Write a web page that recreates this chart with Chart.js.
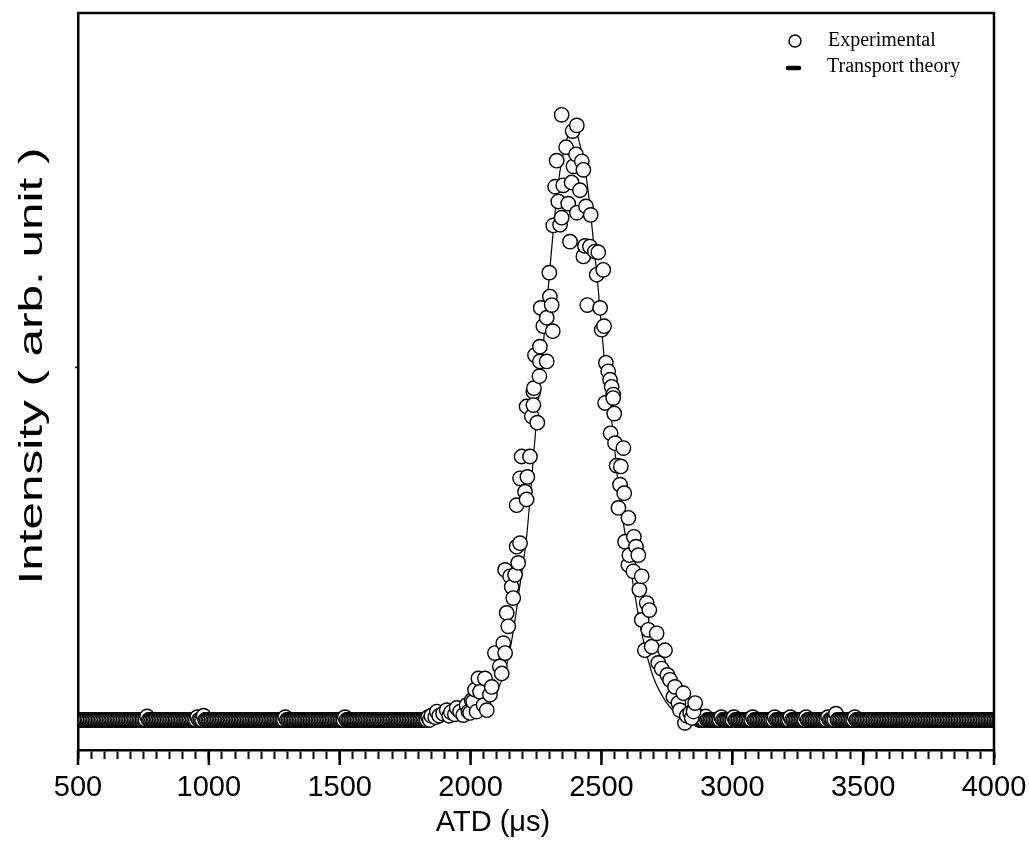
<!DOCTYPE html>
<html>
<head>
<meta charset="utf-8">
<script src="https://cdn.jsdelivr.net/npm/chart.js@4.4.0/dist/chart.umd.min.js"></script>
<style>
    body { margin: 0; background: #fff; }
    .graph-session { width: 1029px; height: 863px; }
</style>
</head>
<body>
<div class="graph-session"><canvas id="atd_graph"></canvas></div>
<script>
// experimental points, left baseline (ATD in us)
const tailLeftX = [
    500, 506, 512, 518, 524, 530, 536, 542, 548, 554,
    560, 566, 572, 578, 584, 590, 596, 602, 608, 614,
    620, 626, 632, 638, 644, 650, 656, 662, 668, 674,
    680, 686, 692, 698, 704, 710, 716, 722, 728, 734,
    740, 746, 752, 758, 764, 770, 776, 782, 788, 794,
    800, 806, 812, 818, 824, 830, 836, 842, 848, 854,
    860, 866, 872, 878, 884, 890, 896, 902, 908, 914,
    920, 926, 932, 938, 944, 950, 956, 962, 968, 974,
    980, 986, 992, 998, 1004, 1010, 1016, 1022, 1028, 1034,
    1040, 1046, 1052, 1058, 1064, 1070, 1076, 1082, 1088, 1094,
    1100, 1106, 1112, 1118, 1124, 1130, 1136, 1142, 1148, 1154,
    1160, 1166, 1172, 1178, 1184, 1190, 1196, 1202, 1208, 1214,
    1220, 1226, 1232, 1238, 1244, 1250, 1256, 1262, 1268, 1274,
    1280, 1286, 1292, 1298, 1304, 1310, 1316, 1322, 1328, 1334,
    1340, 1346, 1352, 1358, 1364, 1370, 1376, 1382, 1388, 1394,
    1400, 1406, 1412, 1418, 1424, 1430, 1436, 1442, 1448, 1454,
    1460, 1466, 1472, 1478, 1484, 1490, 1496, 1502, 1508, 1514,
    1520, 1526, 1532, 1538, 1544, 1550, 1556, 1562, 1568, 1574,
    1580, 1586, 1592, 1598, 1604, 1610, 1616, 1622, 1628, 1634,
    1640, 1646, 1652, 1658, 1664, 1670, 1676, 1682, 1688, 1694,
    1700, 1706, 1712, 1718, 1724, 1730, 1736, 1742, 1748, 1754,
    1760, 1766, 1772, 1778, 1784, 1790, 1796, 1802, 1808, 1814,
    1820, 1826, 1832, 1838, 1844, 1850
]
const tailLeftY = [
    0, 0, 0, 0, 0, 0, 0, 0, 0, 0,
    0, 0, 0, 0, 0, 0, 0, 0, 0, 0,
    0, 0, 0, 0, 0, 0, 0, 0, 0, 0,
    0, 0, 0, 0, 0, 0, 0, 0, 0, 0,
    0, 0, 0, 0, 0.005, 0, 0, 0, 0, 0,
    0, 0, 0, 0, 0, 0, 0, 0, 0, 0,
    0, 0, 0, 0, 0, 0, 0, 0, 0, 0,
    0, 0, 0, 0, 0, 0, 0.004, 0, 0, 0,
    0.006, 0, 0, 0, 0, 0, 0, 0, 0, 0,
    0, 0, 0, 0, 0, 0, 0, 0, 0, 0,
    0, 0, 0, 0, 0, 0, 0, 0, 0, 0,
    0, 0, 0, 0, 0, 0, 0, 0, 0, 0,
    0, 0, 0, 0, 0, 0, 0, 0, 0, 0,
    0, 0, 0.004, 0, 0, 0, 0, 0, 0, 0,
    0, 0, 0, 0, 0, 0, 0, 0, 0, 0,
    0, 0, 0, 0, 0, 0, 0, 0, 0, 0,
    0, 0, 0, 0, 0, 0, 0, 0, 0, 0,
    0.004, 0, 0, 0, 0, 0, 0, 0, 0, 0,
    0, 0, 0, 0, 0, 0, 0, 0, 0, 0,
    0, 0, 0, 0, 0, 0, 0, 0, 0, 0,
    0, 0, 0, 0, 0, 0, 0, 0, 0, 0,
    0, 0, 0, 0, 0, 0, 0, 0, 0, 0,
    0, 0, 0, 0.004, 0, 0.006
]
// experimental points, peak
const peakX = [
    1865, 1871, 1880, 1895, 1909, 1918, 1925, 1940, 1947, 1960,
    1972, 1985, 1992, 1998, 2004, 2010, 2017, 2023, 2030, 2036,
    2050, 2055, 2062, 2074, 2081, 2093, 2112, 2119, 2125, 2132,
    2132, 2138, 2144, 2151, 2157, 2163, 2170, 2176, 2176, 2182,
    2189, 2189, 2195, 2208, 2214, 2214, 2217, 2227, 2234, 2240,
    2240, 2242, 2246, 2255, 2263, 2265, 2265, 2268, 2278, 2291,
    2291, 2301, 2303, 2310, 2314, 2316, 2323, 2329, 2335, 2342,
    2348, 2348, 2354, 2365, 2373, 2380, 2386, 2390, 2393, 2403,
    2406, 2406, 2418, 2425, 2431, 2431, 2437, 2441, 2446, 2456,
    2459, 2475, 2482, 2488, 2495, 2501, 2507, 2510, 2514, 2517,
    2526, 2533, 2535, 2539, 2545, 2545, 2549, 2552, 2558, 2565,
    2571, 2574, 2584, 2587, 2590, 2603, 2603, 2607, 2622, 2624,
    2632, 2641, 2645, 2654, 2654, 2666, 2673, 2679, 2683, 2692,
    2711, 2717, 2730, 2743, 2752, 2762, 2775, 2781, 2794, 2800,
    2813, 2819, 2826, 2839, 2845, 2852, 2858
]
const peakY = [
    0.004, 0.012, 0.006, 0.009, 0.014, 0.006, 0.011, 0.008, 0.017, 0.012,
    0.007, 0.021, 0.012, 0.010, 0.028, 0.026, 0.043, 0.012, 0.059, 0.040,
    0.021, 0.059, 0.014, 0.036, 0.047, 0.095, 0.076, 0.066, 0.109, 0.095,
    0.213, 0.152, 0.133, 0.204, 0.189, 0.173, 0.206, 0.305, 0.246, 0.223,
    0.343, 0.251, 0.374, 0.324, 0.445, 0.313, 0.345, 0.374, 0.431, 0.466,
    0.447, 0.471, 0.518, 0.422, 0.488, 0.530, 0.509, 0.585, 0.559, 0.571,
    0.509, 0.635, 0.601, 0.589, 0.552, 0.702, 0.757, 0.794, 0.736, 0.703,
    0.859, 0.713, 0.759, 0.813, 0.733, 0.679, 0.763, 0.836, 0.786, 0.803,
    0.844, 0.720, 0.752, 0.793, 0.781, 0.658, 0.673, 0.729, 0.589, 0.672,
    0.717, 0.665, 0.632, 0.664, 0.585, 0.554, 0.639, 0.559, 0.450, 0.507,
    0.495, 0.483, 0.407, 0.473, 0.462, 0.457, 0.435, 0.393, 0.361, 0.301,
    0.334, 0.360, 0.386, 0.322, 0.253, 0.287, 0.220, 0.234, 0.211, 0.260,
    0.246, 0.234, 0.185, 0.204, 0.142, 0.099, 0.166, 0.128, 0.156, 0.104,
    0.123, 0.081, 0.073, 0.099, 0.064, 0.057, 0.033, 0.047, 0.024, 0.014,
    0.038, -0.004, 0.006, 0.010, 0.003, 0.012, 0.024
]
// experimental points, right baseline (runs a little past the axis end)
const tailRightX = [
    2868, 2874, 2880, 2886, 2892, 2898, 2904, 2910, 2916, 2922,
    2928, 2934, 2940, 2946, 2952, 2958, 2964, 2970, 2976, 2982,
    2988, 2994, 3000, 3006, 3012, 3018, 3024, 3030, 3036, 3042,
    3048, 3054, 3060, 3066, 3072, 3078, 3084, 3090, 3096, 3102,
    3108, 3114, 3120, 3126, 3132, 3138, 3144, 3150, 3156, 3162,
    3168, 3174, 3180, 3186, 3192, 3198, 3204, 3210, 3216, 3222,
    3228, 3234, 3240, 3246, 3252, 3258, 3264, 3270, 3276, 3282,
    3288, 3294, 3300, 3306, 3312, 3318, 3324, 3330, 3336, 3342,
    3348, 3354, 3360, 3366, 3372, 3378, 3384, 3390, 3396, 3402,
    3408, 3414, 3420, 3426, 3432, 3438, 3444, 3450, 3456, 3462,
    3468, 3474, 3480, 3486, 3492, 3498, 3504, 3510, 3516, 3522,
    3528, 3534, 3540, 3546, 3552, 3558, 3564, 3570, 3576, 3582,
    3588, 3594, 3600, 3606, 3612, 3618, 3624, 3630, 3636, 3642,
    3648, 3654, 3660, 3666, 3672, 3678, 3684, 3690, 3696, 3702,
    3708, 3714, 3720, 3726, 3732, 3738, 3744, 3750, 3756, 3762,
    3768, 3774, 3780, 3786, 3792, 3798, 3804, 3810, 3816, 3822,
    3828, 3834, 3840, 3846, 3852, 3858, 3864, 3870, 3876, 3882,
    3888, 3894, 3900, 3906, 3912, 3918, 3924, 3930, 3936, 3942,
    3948, 3954, 3960, 3966, 3972, 3978, 3984, 3990, 3996, 4002,
    4008, 4014, 4020, 4026
]
const tailRightY = [
    0.006, 0, 0, 0, 0, 0.005, 0, 0, 0, 0,
    0, 0, 0, 0, 0, 0.004, 0, 0, 0, 0,
    0, 0, 0, 0.004, 0, 0, 0, 0, 0, 0,
    0, 0, 0, 0, 0, 0.004, 0, 0, 0, 0,
    0, 0, 0, 0, 0, 0, 0, 0, 0, 0.004,
    0, 0, 0, 0, 0, 0, 0, 0, 0, 0.004,
    0, 0, 0, 0, 0, 0, 0, 0, 0, 0.004,
    0, 0, 0, 0, 0, 0, 0, 0, 0, 0,
    0, 0, 0, 0.004, 0, 0, 0, 0, 0.009, 0,
    0, 0, 0, 0, 0, 0, 0, 0, 0, 0,
    0.004, 0, 0, 0, 0, 0, 0, 0, 0, 0,
    0, 0, 0, 0, 0, 0, 0, 0, 0, 0,
    0, 0, 0, 0, 0, 0, 0, 0, 0, 0,
    0, 0, 0, 0, 0, 0, 0, 0, 0, 0,
    0, 0, 0, 0, 0, 0, 0, 0, 0, 0,
    0, 0, 0, 0, 0, 0, 0, 0, 0, 0,
    0, 0, 0, 0, 0, 0, 0, 0, 0, 0,
    0, 0, 0, 0, 0, 0, 0, 0, 0, 0,
    0, 0, 0, 0, 0, 0, 0, 0, 0, 0,
    0, 0, 0, 0
]
// transport theory curve
const theoryX = [
    500, 1800, 1850, 1883, 1940, 1979, 2020, 2055, 2080, 2106,
    2125, 2144, 2170, 2190, 2214, 2249, 2275, 2303, 2320, 2342,
    2372, 2392, 2410, 2445, 2464, 2487, 2502, 2514, 2540, 2571,
    2590, 2609, 2636, 2659, 2697, 2750, 2800, 2850, 4000
]
const theoryY = [
    0, 0, 0.001, 0.003, 0.008, 0.012, 0.018, 0.024, 0.032, 0.045,
    0.063, 0.087, 0.142, 0.195, 0.260, 0.412, 0.520, 0.640, 0.710, 0.780,
    0.830, 0.842, 0.828, 0.763, 0.700, 0.615, 0.550, 0.501, 0.422, 0.3125,
    0.265, 0.220, 0.160, 0.115, 0.062, 0.024, 0.006, 0, 0
]
const xTitle = "ATD (\u03bcs)"
const yTitle = "Intensity ( arb. unit )"
const legendLabels = ["Experimental", "Transport theory"]
const xMajorTicks = [500, 1000, 1500, 2000, 2500, 3000, 3500, 4000]

let toPoints = (xs, ys) => xs.map((x, i) => ({ x: x, y: ys[i] }))
// peak last so it sits on top of the baselines
let expData = [
    ...toPoints(tailLeftX, tailLeftY),
    ...toPoints(tailRightX, tailRightY),
    ...toPoints(peakX, peakY)
]

//frame, major ticks, axis titles and legend
let decoPlugin = {
    id: "deco",
    afterDraw(chart) {
        let ctx = chart.ctx
        let a = chart.chartArea
        let xScale = chart.scales.x
        ctx.save()
        ctx.strokeStyle = "#000"
        ctx.lineWidth = 2.5
        ctx.beginPath()
        ctx.moveTo(a.left - 1, a.top)
        ctx.lineTo(a.right, a.top)
        ctx.lineTo(a.right, a.bottom + 1)
        ctx.stroke()
        ctx.beginPath()
        xMajorTicks.forEach(v => {
            let px = xScale.getPixelForValue(v)
            ctx.moveTo(px, a.bottom)
            ctx.lineTo(px, a.bottom + 15)
        })
        ctx.stroke()

        // x title (sits left of centre in the original)
        ctx.fillStyle = "#000"
        ctx.font = '29px "Liberation Sans"'
        ctx.textAlign = "center"
        ctx.textBaseline = "middle"
        ctx.fillText(xTitle, 493, 823)

        // y title, stretched like the original
        ctx.font = '34px "Liberation Sans"'
        let w = ctx.measureText(yTitle).width
        ctx.translate(33, 366)
        ctx.rotate(-Math.PI / 2)
        ctx.scale(437 / w, 1)
        ctx.fillText(yTitle, 0, 0)
        ctx.restore()

        // legend
        ctx.save()
        ctx.strokeStyle = "#000"
        ctx.fillStyle = "#fff"
        ctx.lineWidth = 1.5
        ctx.beginPath()
        ctx.arc(795, 41, 6, 0, Math.PI * 2)
        ctx.fill()
        ctx.stroke()
        ctx.lineWidth = 4.5
        ctx.lineCap = "round"
        ctx.beginPath()
        ctx.moveTo(788, 68)
        ctx.lineTo(799, 68)
        ctx.stroke()
        ctx.fillStyle = "#000"
        ctx.font = '20px "Liberation Serif"'
        ctx.textAlign = "left"
        ctx.textBaseline = "middle"
        ctx.fillText(legendLabels[0], 828, 41)
        ctx.fillText(legendLabels[1], 827, 67)
        ctx.restore()
    }
}

Chart.defaults.font.family = '"Liberation Sans", Arial, sans-serif'
Chart.defaults.color = "#000"

new Chart("atd_graph", {
    type: "scatter",
    data: {
        datasets: [{
            label: legendLabels[0],
            data: expData,
            pointRadius: 7.2,
            pointBorderWidth: 1.4,
            pointBackgroundColor: "#fff",
            pointBorderColor: "#000",
            showLine: false,
            clip: 0
        }, {
            label: legendLabels[1],
            data: toPoints(theoryX, theoryY),
            showLine: true,
            pointRadius: 0,
            borderColor: "#000",
            borderWidth: 1.2,
            cubicInterpolationMode: "monotone",
            clip: 0
        }]
    },
    options: {
        responsive: true,
        maintainAspectRatio: false,
        animation: false,
        events: [],
        layout: {
            padding: { top: 13, right: 35, bottom: 23, left: 0 }
        },
        plugins: {
            legend: { display: false },
            tooltip: { enabled: false }
        },
        scales: {
            x: {
                type: "linear",
                min: 500,
                max: 4000,
                afterFit: scale => {
                    scale.height = 90
                    scale.paddingLeft = 0
                    scale.paddingRight = 0
                },
                border: { display: true, color: "#000", width: 2.5 },
                grid: {
                    drawOnChartArea: false,
                    drawTicks: true,
                    tickLength: 9,
                    tickWidth: 2,
                    tickColor: "#000"
                },
                ticks: {
                    stepSize: 50,
                    autoSkip: false,
                    maxRotation: 0,
                    minRotation: 0,
                    padding: 12,
                    font: { size: 29 },
                    callback: v => (v % 500 === 0 ? String(v) : "")
                },
                title: { display: false }
            },
            y: {
                type: "linear",
                min: -0.0426,
                max: 1.0036,
                afterFit: scale => { scale.width = 78 },
                afterBuildTicks: scale => { scale.ticks = [{ value: 0.5 }] },
                border: { display: true, color: "#000", width: 2.5 },
                grid: {
                    drawOnChartArea: false,
                    tickLength: 3,
                    tickWidth: 1.5,
                    tickColor: "#000"
                },
                ticks: { display: false }
            }
        }
    },
    plugins: [decoPlugin]
})
</script>
</body>
</html>
